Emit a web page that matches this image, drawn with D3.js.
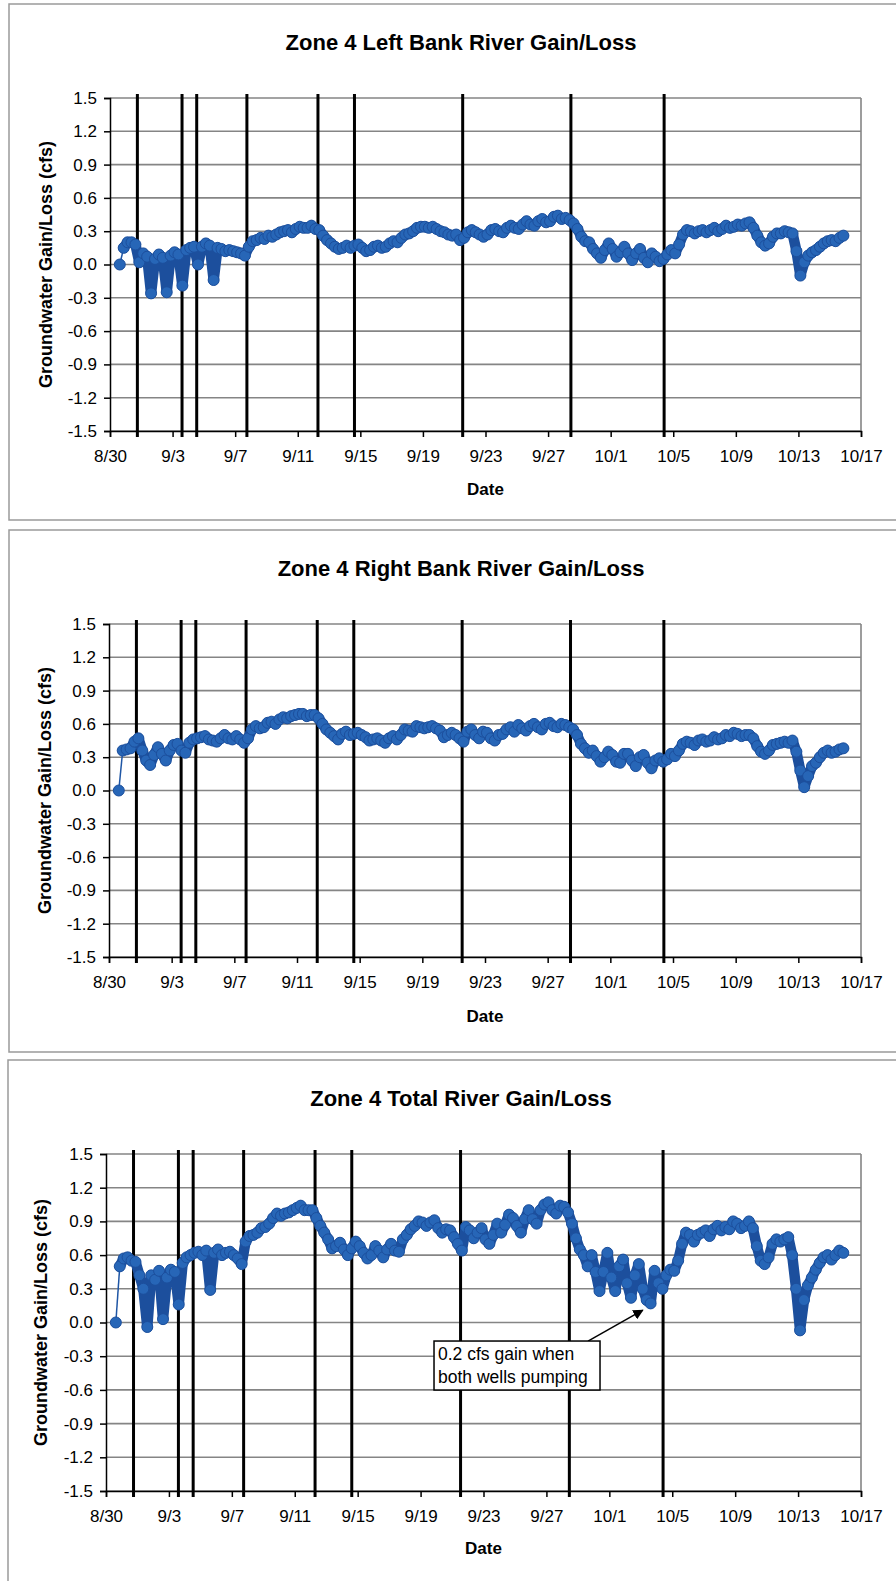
<!DOCTYPE html>
<html>
<head>
<meta charset="utf-8">
<script src="https://cdn.jsdelivr.net/npm/d3@7"></script>
<style>
  body { margin: 0; background: #fff; }
  svg { display: block; font-family: "Liberation Sans", Arial, sans-serif; }
</style>
</head>
<body>
<svg id="chart" width="896" height="1581"></svg>
<script>
// ---- data ----
var titles = ["Zone 4 Left Bank River Gain/Loss",
              "Zone 4 Right Bank River Gain/Loss",
              "Zone 4 Total River Gain/Loss"];
var yTicks = [-1.5, -1.2, -0.9, -0.6, -0.3, 0.0, 0.3, 0.6, 0.9, 1.2, 1.5];
var xTickLabels = ["08/30","09/03","09/07","09/11","09/15","09/19","09/23",
                   "09/27","10/01","10/05","10/09","10/13","10/17"];
// pumping on/off times (vertical black lines)
var eventTimes = ["08/31 18:00","09/03 14:30","09/04 13:00","09/07 18:00",
                  "09/12 07:00","09/14 15:00","09/21 13:00","09/28 11:00","10/04 10:00"];
// readings every 6 hours starting 8/30 15:00
var seriesStart = "08/30 15:00";
var stepHours = 6;

var leftBank = [0.0,0.15,
 0.2,0.2,0.18,0.02, 0.1,0.07,-0.26,0.05, 0.09,0.06,-0.25,0.08, 0.11,0.09,-0.19,0.13,
 0.15,0.16,0.0,0.16, 0.19,0.17,-0.14,0.15, 0.14,0.12,0.13,0.12, 0.11,0.1,0.08,0.16,
 0.21,0.22,0.24,0.23, 0.26,0.25,0.27,0.29, 0.3,0.31,0.29,0.32, 0.34,0.33,0.33,0.35,
 0.32,0.31,0.26,0.22, 0.19,0.16,0.14,0.15, 0.17,0.15,0.17,0.18, 0.15,0.12,0.13,0.16,
 0.17,0.15,0.16,0.19, 0.21,0.2,0.24,0.27, 0.28,0.3,0.33,0.34, 0.34,0.33,0.34,0.32,
 0.3,0.29,0.27,0.26, 0.27,0.22,0.24,0.29, 0.31,0.29,0.27,0.25, 0.27,0.31,0.32,0.3,
 0.29,0.33,0.35,0.33, 0.32,0.36,0.39,0.36, 0.35,0.39,0.41,0.38, 0.39,0.43,0.44,0.41,
 0.42,0.4,0.37,0.32, 0.25,0.21,0.2,0.14, 0.1,0.06,0.13,0.19, 0.14,0.07,0.11,0.16,
 0.1,0.04,0.1,0.14, 0.06,0.02,0.1,0.07, 0.03,0.05,0.09,0.13, 0.1,0.18,0.27,0.31,
 0.3,0.28,0.3,0.31, 0.29,0.31,0.33,0.3, 0.32,0.35,0.33,0.34, 0.36,0.35,0.37,0.38,
 0.33,0.26,0.2,0.17, 0.19,0.25,0.28,0.28, 0.3,0.29,0.28,0.12, -0.1,0.02,0.08,0.11,
 0.13,0.16,0.19,0.21, 0.22,0.21,0.24,0.26];

var rightBank = [0.0,0.36,
 0.37,0.38,0.44,0.47, 0.36,0.27,0.23,0.32, 0.39,0.33,0.27,0.36, 0.41,0.42,0.36,0.34,
 0.43,0.46,0.47,0.48, 0.49,0.46,0.45,0.44, 0.47,0.5,0.47,0.46, 0.49,0.46,0.43,0.47,
 0.55,0.58,0.56,0.57, 0.61,0.62,0.6,0.64, 0.66,0.65,0.67,0.68, 0.69,0.69,0.67,0.68,
 0.68,0.65,0.6,0.55, 0.52,0.49,0.46,0.51, 0.53,0.5,0.51,0.52, 0.5,0.48,0.45,0.46,
 0.47,0.45,0.43,0.47, 0.49,0.46,0.5,0.55, 0.54,0.53,0.58,0.57, 0.56,0.57,0.58,0.56,
 0.54,0.48,0.5,0.52, 0.5,0.47,0.44,0.53, 0.55,0.5,0.47,0.53, 0.52,0.47,0.45,0.5,
 0.51,0.55,0.57,0.53, 0.59,0.56,0.54,0.58, 0.6,0.57,0.55,0.6, 0.61,0.58,0.57,0.6,
 0.59,0.57,0.55,0.5, 0.42,0.38,0.34,0.36, 0.31,0.26,0.3,0.35, 0.32,0.26,0.25,0.33,
 0.33,0.27,0.22,0.3, 0.32,0.25,0.2,0.27, 0.29,0.26,0.28,0.33, 0.31,0.36,0.42,0.44,
 0.43,0.41,0.45,0.46, 0.44,0.45,0.48,0.46, 0.47,0.5,0.49,0.52, 0.51,0.49,0.5,0.5,
 0.47,0.4,0.35,0.33, 0.36,0.41,0.42,0.43, 0.44,0.43,0.45,0.35, 0.18,0.03,0.13,0.22,
 0.25,0.3,0.34,0.36, 0.34,0.35,0.37,0.38];

var total = [0.0,0.5,
 0.57,0.58,0.55,0.54, 0.42,0.3,-0.04,0.42, 0.38,0.46,0.03,0.4, 0.47,0.45,0.16,0.53,
 0.58,0.6,0.62,0.63, 0.6,0.64,0.29,0.62, 0.65,0.6,0.62,0.63, 0.6,0.57,0.52,0.72,
 0.77,0.78,0.8,0.84, 0.85,0.88,0.93,0.97, 0.95,0.97,0.98,1.0, 1.02,1.04,1.0,1.0,
 1.0,0.93,0.86,0.8, 0.74,0.66,0.68,0.71, 0.65,0.6,0.66,0.72, 0.68,0.62,0.57,0.6,
 0.68,0.64,0.58,0.65, 0.7,0.64,0.63,0.74, 0.78,0.83,0.86,0.9, 0.89,0.86,0.89,0.91,
 0.84,0.8,0.83,0.82, 0.76,0.7,0.64,0.85, 0.82,0.75,0.8,0.84, 0.74,0.7,0.78,0.88,
 0.8,0.87,0.96,0.93, 0.86,0.8,0.92,1.0, 0.92,0.88,1.0,1.05, 1.07,1.0,0.97,1.04,
 1.03,0.98,0.88,0.75, 0.65,0.6,0.5,0.6, 0.45,0.28,0.45,0.62, 0.4,0.28,0.5,0.56,
 0.35,0.22,0.42,0.52, 0.3,0.2,0.17,0.46, 0.35,0.3,0.42,0.47, 0.46,0.55,0.7,0.8,
 0.78,0.72,0.78,0.8, 0.82,0.77,0.83,0.86, 0.82,0.85,0.83,0.9, 0.88,0.84,0.86,0.9,
 0.84,0.68,0.55,0.52, 0.58,0.7,0.74,0.72, 0.74,0.76,0.6,0.3, -0.07,0.2,0.33,0.4,
 0.47,0.53,0.58,0.6, 0.56,0.6,0.64,0.62];

var noteLines = ["0.2 cfs gain when", "both wells pumping"];
var noteBoxAt = {time: "09/19 20:30", value: -0.165};
var noteArrowTip = {time: "10/03 03:00", value: 0.11};

// ---- layout ----
var parseT = d3.utcParse("%Y/%m/%d %H:%M");
function T(s) { return parseT("2005/" + (s.length > 5 ? s : s + " 00:00")); }

var panels = [
  {title: titles[0], values: leftBank,  frame: [9, 4, 520],
   plot: {l: 110, r: 861, t: 98, b: 431}, titleY: 50, dateY: 495, ylabX: 46},
  {title: titles[1], values: rightBank, frame: [9, 530, 1052],
   plot: {l: 109, r: 861, t: 624, b: 957}, titleY: 576, dateY: 1022, ylabX: 45},
  {title: titles[2], values: total,     frame: [8, 1060, 1600],
   plot: {l: 106, r: 861, t: 1154, b: 1491}, titleY: 1106, dateY: 1554, ylabX: 41, note: true}
];

var svg = d3.select("#chart");
var t0 = T(seriesStart);

panels.forEach(function(p) {
  var g = svg.append("g");

  g.append("rect")
    .attr("x", p.frame[0]).attr("y", p.frame[1])
    .attr("width", 960).attr("height", p.frame[2] - p.frame[1])
    .attr("fill", "none").attr("stroke", "#9a9a9a").attr("stroke-width", 1.5);

  var x = d3.scaleUtc().domain([T(xTickLabels[0]), T(xTickLabels[xTickLabels.length - 1])])
    .range([p.plot.l, p.plot.r]);
  var y = d3.scaleLinear().domain([-1.5, 1.5]).range([p.plot.b, p.plot.t]);

  // gridlines
  g.append("g").selectAll("line")
    .data(yTicks)
    .enter().append("line")
    .attr("x1", p.plot.l).attr("x2", p.plot.r)
    .attr("y1", function(d) { return y(d); })
    .attr("y2", function(d) { return y(d); })
    .attr("stroke", "#858585").attr("stroke-width", 1.6);

  g.append("line")
    .attr("x1", p.plot.r).attr("x2", p.plot.r)
    .attr("y1", p.plot.t).attr("y2", p.plot.b)
    .attr("stroke", "#858585").attr("stroke-width", 1.6);

  // axes
  var yAxis = g.append("g")
    .attr("transform", "translate(" + p.plot.l + ",0)")
    .call(d3.axisLeft(y).tickValues(yTicks)
      .tickFormat(function(d) { return d.toFixed(1); })
      .tickSize(6).tickPadding(7));
  var xAxis = g.append("g")
    .attr("transform", "translate(0," + p.plot.b + ")")
    .call(d3.axisBottom(x).tickValues(xTickLabels.map(T))
      .tickFormat(d3.utcFormat("%-m/%-d"))
      .tickSize(6).tickPadding(13));
  [yAxis, xAxis].forEach(function(a) {
    a.selectAll("path,line").attr("stroke", "#000").attr("stroke-width", 1.5);
    a.selectAll("text").attr("font-size", 17).attr("fill", "#000")
      .attr("font-family", "'Liberation Sans', Arial, sans-serif");
  });

  // pumping event lines
  g.append("g").selectAll("line")
    .data(eventTimes)
    .enter().append("line")
    .attr("x1", function(d) { return x(T(d)); })
    .attr("x2", function(d) { return x(T(d)); })
    .attr("y1", p.plot.t - 4).attr("y2", p.plot.b + 6)
    .attr("stroke", "#000").attr("stroke-width", 3);

  // series: dense markers in the original form a thick band
  var pts = p.values.map(function(v, i) {
    return {t: new Date(t0.getTime() + i * stepHours * 3600000), v: v};
  });
  var line = d3.line()
    .x(function(d) { return x(d.t); })
    .y(function(d) { return y(d.v); });
  g.append("path")
    .datum(pts.slice(0, 2))
    .attr("fill", "none").attr("stroke", "#1f56a5").attr("stroke-width", 1.5)
    .attr("d", line);
  g.append("path")
    .datum(pts.slice(1))
    .attr("fill", "none").attr("stroke", "#1c4f9d").attr("stroke-width", 10.5)
    .attr("stroke-linejoin", "round").attr("stroke-linecap", "round")
    .attr("d", line);
  g.append("g").selectAll("circle")
    .data(pts)
    .enter().append("circle")
    .attr("cx", function(d) { return x(d.t); })
    .attr("cy", function(d) { return y(d.v); })
    .attr("r", 5.5)
    .attr("fill", "#2766b7").attr("stroke", "#1c4f9d").attr("stroke-width", 1);

  // titles
  g.append("text")
    .attr("x", 461).attr("y", p.titleY)
    .attr("text-anchor", "middle").attr("font-size", 22).attr("font-weight", "bold")
    .text(p.title);
  g.append("text")
    .attr("x", (p.plot.l + p.plot.r) / 2).attr("y", p.dateY)
    .attr("text-anchor", "middle").attr("font-size", 17).attr("font-weight", "bold")
    .text("Date");
  g.append("text")
    .attr("transform", "translate(" + p.ylabX + "," + (p.plot.t + p.plot.b) / 2 + ") rotate(-90)")
    .attr("text-anchor", "middle").attr("dominant-baseline", "central")
    .attr("font-size", 18).attr("font-weight", "bold")
    .text("Groundwater Gain/Loss (cfs)");

  if (p.note) {
    var bx = x(T(noteBoxAt.time)), by = y(noteBoxAt.value);
    var tipX = x(T(noteArrowTip.time)), tipY = y(noteArrowTip.value);
    svg.append("defs").append("marker")
      .attr("id", "arrow").attr("viewBox", "0 0 10 10")
      .attr("refX", 9).attr("refY", 5)
      .attr("markerWidth", 7).attr("markerHeight", 7)
      .attr("orient", "auto")
      .append("path").attr("d", "M0,0 L10,5 L0,10 z").attr("fill", "#000");
    g.append("line")
      .attr("x1", bx + 154).attr("y1", by)
      .attr("x2", tipX).attr("y2", tipY)
      .attr("stroke", "#000").attr("stroke-width", 1.5)
      .attr("marker-end", "url(#arrow)");
    g.append("rect")
      .attr("x", bx).attr("y", by).attr("width", 166).attr("height", 49)
      .attr("fill", "#fff").attr("stroke", "#000").attr("stroke-width", 1.5);
    g.append("g").selectAll("text")
      .data(noteLines)
      .enter().append("text")
      .attr("x", bx + 4)
      .attr("y", function(d, i) { return by + 19 + i * 23; })
      .attr("font-size", 17.5)
      .text(function(d) { return d; });
  }
});
</script>
</body>
</html>
